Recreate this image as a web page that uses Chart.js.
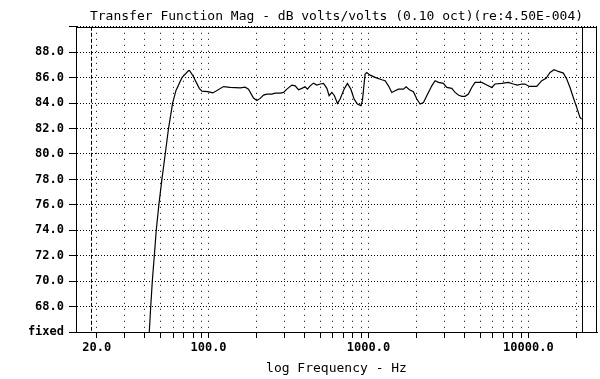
<!DOCTYPE html>
<html>
<head>
<meta charset="utf-8">
<script src="https://cdn.jsdelivr.net/npm/chart.js@4/dist/chart.umd.min.js"></script>
<style>
  html, body { margin: 0; padding: 0; background: #fff; }
  #wrap { width: 600px; height: 379px; }
</style>
</head>
<body>
<div id="wrap"><canvas id="tfChart"></canvas></div>
<script>
var freqHz = [41.7, 42.6, 43.5, 44.5, 45.8, 47.1, 48.9, 51.1, 53.6, 56.2, 59.6, 62.6, 68.2, 75.0, 76.1, 79.9,
  87.5, 90.9, 99.1, 106.5, 124.1, 136.6, 157.8, 169.5, 177.8, 191, 200.6, 210.4, 220.8, 231.7, 248.9, 261.1,
  280.5, 294.3, 309, 332, 348.3, 365.2, 383.4, 402, 415.5, 432.4, 453, 475.8, 499, 523.6, 549.5, 567.8,
  590.4, 613, 640, 665.5, 704.7, 739, 776, 814, 853, 896.5, 917, 953, 977, 1025, 1101, 1213, 1271, 1334,
  1400, 1468, 1540, 1655, 1721, 1804, 1911, 2007, 2104, 2208, 2317, 2490, 2612, 2738, 2943, 3090, 3320,
  3483, 3652, 3837, 4020, 4217, 4426, 4643, 5115, 5495, 5904, 6194, 6823, 7499, 8058, 8536, 9094, 9530,
  10140, 11290, 12130, 12910, 13670, 14480, 15400, 16550, 17380, 18230, 19100, 20070, 21040, 21580];
var magDb = [64.0, 66.0, 68.0, 70.0, 72.0, 74.0, 76.0, 78.0, 80.0, 82.0, 84.0, 85.0, 86.0, 86.55, 86.55, 86.15,
  85.16, 84.94, 84.9, 84.8, 85.3, 85.24, 85.2, 85.25, 85.1, 84.4, 84.2, 84.37, 84.63, 84.71, 84.71, 84.79,
  84.79, 84.84, 85.1, 85.42, 85.36, 85.05, 85.16, 85.28, 85.1, 85.36, 85.57, 85.42, 85.5, 85.55, 85.16, 84.58,
  84.84, 84.58, 83.98, 84.32, 85.1, 85.55, 85.1, 84.31, 83.93, 83.8, 84.19, 86.28, 86.41, 86.2, 86.02, 85.84, 85.76, 85.36,
  84.84, 84.97, 85.1, 85.1, 85.28, 85.05, 84.89, 84.32, 83.93, 84.05, 84.58, 85.36, 85.76, 85.63, 85.55, 85.23, 85.16,
  84.84, 84.63, 84.53, 84.53, 84.71, 85.23, 85.63, 85.63, 85.42, 85.23, 85.5, 85.55, 85.63, 85.5, 85.42, 85.5, 85.5,
  85.31, 85.31, 85.76, 85.95, 86.41, 86.62, 86.49, 86.36, 85.89, 85.23, 84.44, 83.66, 82.87, 82.74];

// axis stuff
var xGridHz = [20, 30, 40, 50, 60, 70, 80, 90, 100, 200, 300, 400, 500, 600, 700, 800, 900,
  1000, 2000, 3000, 4000, 5000, 6000, 7000, 8000, 9000, 10000, 20000];
var xLabelHz = [20, 100, 1000, 10000];
var markerHz = [18.3, 21580];   // dashed lower cursor, solid upper cursor
var yMin = 66, yMax = 90, yStep = 2;

Chart.defaults.font.family = "'DejaVu Sans Mono', monospace";
Chart.defaults.color = '#000';

var points = [];
for (var i = 0; i < freqHz.length; ++i) {
  points.push({x: freqHz[i], y: magDb[i]});
}

// frame + cursor lines
var framePlugin = {
  id: 'frame',
  afterDraw: function(chart) {
    var ctx = chart.ctx, a = chart.chartArea, xs = chart.scales.x;
    ctx.save();
    ctx.strokeStyle = '#000';
    ctx.lineWidth = 1;
    ctx.strokeRect(Math.round(a.left) + 0.5, Math.round(a.top) + 0.5,
      Math.round(a.right - a.left) - 1, Math.round(a.bottom - a.top));
    for (var i = 0; i < markerHz.length; ++i) {
      var px = Math.round(xs.getPixelForValue(markerHz[i])) + 0.5;
      ctx.setLineDash(i == 0 ? [4, 2] : []);
      ctx.beginPath();
      ctx.moveTo(px, a.top);
      ctx.lineTo(px, a.bottom);
      ctx.stroke();
    }
    ctx.restore();
  }
};

var tfChart = new Chart(document.getElementById('tfChart'), {
  type: 'line',
  data: {
    datasets: [{
      data: points,
      borderColor: '#000',
      borderWidth: 1.2,
      pointRadius: 0,
      tension: 0,
      fill: false
    }]
  },
  options: {
    responsive: true,
    maintainAspectRatio: false,
    animation: false,
    layout: { padding: { right: 3, left: 0, top: 0, bottom: 0 } },
    plugins: {
      legend: { display: false },
      tooltip: { enabled: false },
      title: {
        display: true,
        fullSize: false,
        text: 'Transfer Function Mag - dB volts/volts (0.10 oct)(re:4.50E-004)',
        color: '#000',
        font: { size: 13, weight: 'normal' },
        padding: { top: 8.6, bottom: 2.6 }
      }
    },
    scales: {
      x: {
        type: 'logarithmic',
        min: 14.83,
        max: 26880,
        afterBuildTicks: function(scale) {
          scale.ticks = xGridHz.map(function(v) { return {value: v}; });
        },
        afterFit: function(scale) { scale.height = 47; },
        ticks: {
          autoSkip: false,
          maxRotation: 0,
          padding: 3,
          font: { size: 12, weight: 'bold' },
          callback: function(v) {
            return xLabelHz.indexOf(v) >= 0 ? v.toFixed(1) : '';
          }
        },
        grid: { color: '#000', lineWidth: 1, tickLength: 6, tickBorderDash: [] },
        border: { color: '#000', dash: [1, 5] },
        title: {
          display: true,
          text: 'log Frequency - Hz',
          font: { size: 13 },
          padding: { top: 3, bottom: 3 }
        }
      },
      y: {
        min: yMin,
        max: yMax,
        afterFit: function(scale) { scale.width = 76; },
        ticks: {
          stepSize: yStep,
          padding: 5,
          font: { size: 12, weight: 'bold' },
          callback: function(v) {
            if (v == yMin) return 'fixed';
            if (v == yMax) return '';
            return v.toFixed(1);
          }
        },
        grid: { color: '#000', lineWidth: 1, tickLength: 7, tickBorderDash: [] },
        border: { color: '#000', dash: [1, 2] }
      }
    }
  },
  plugins: [framePlugin]
});
</script>
</body>
</html>
